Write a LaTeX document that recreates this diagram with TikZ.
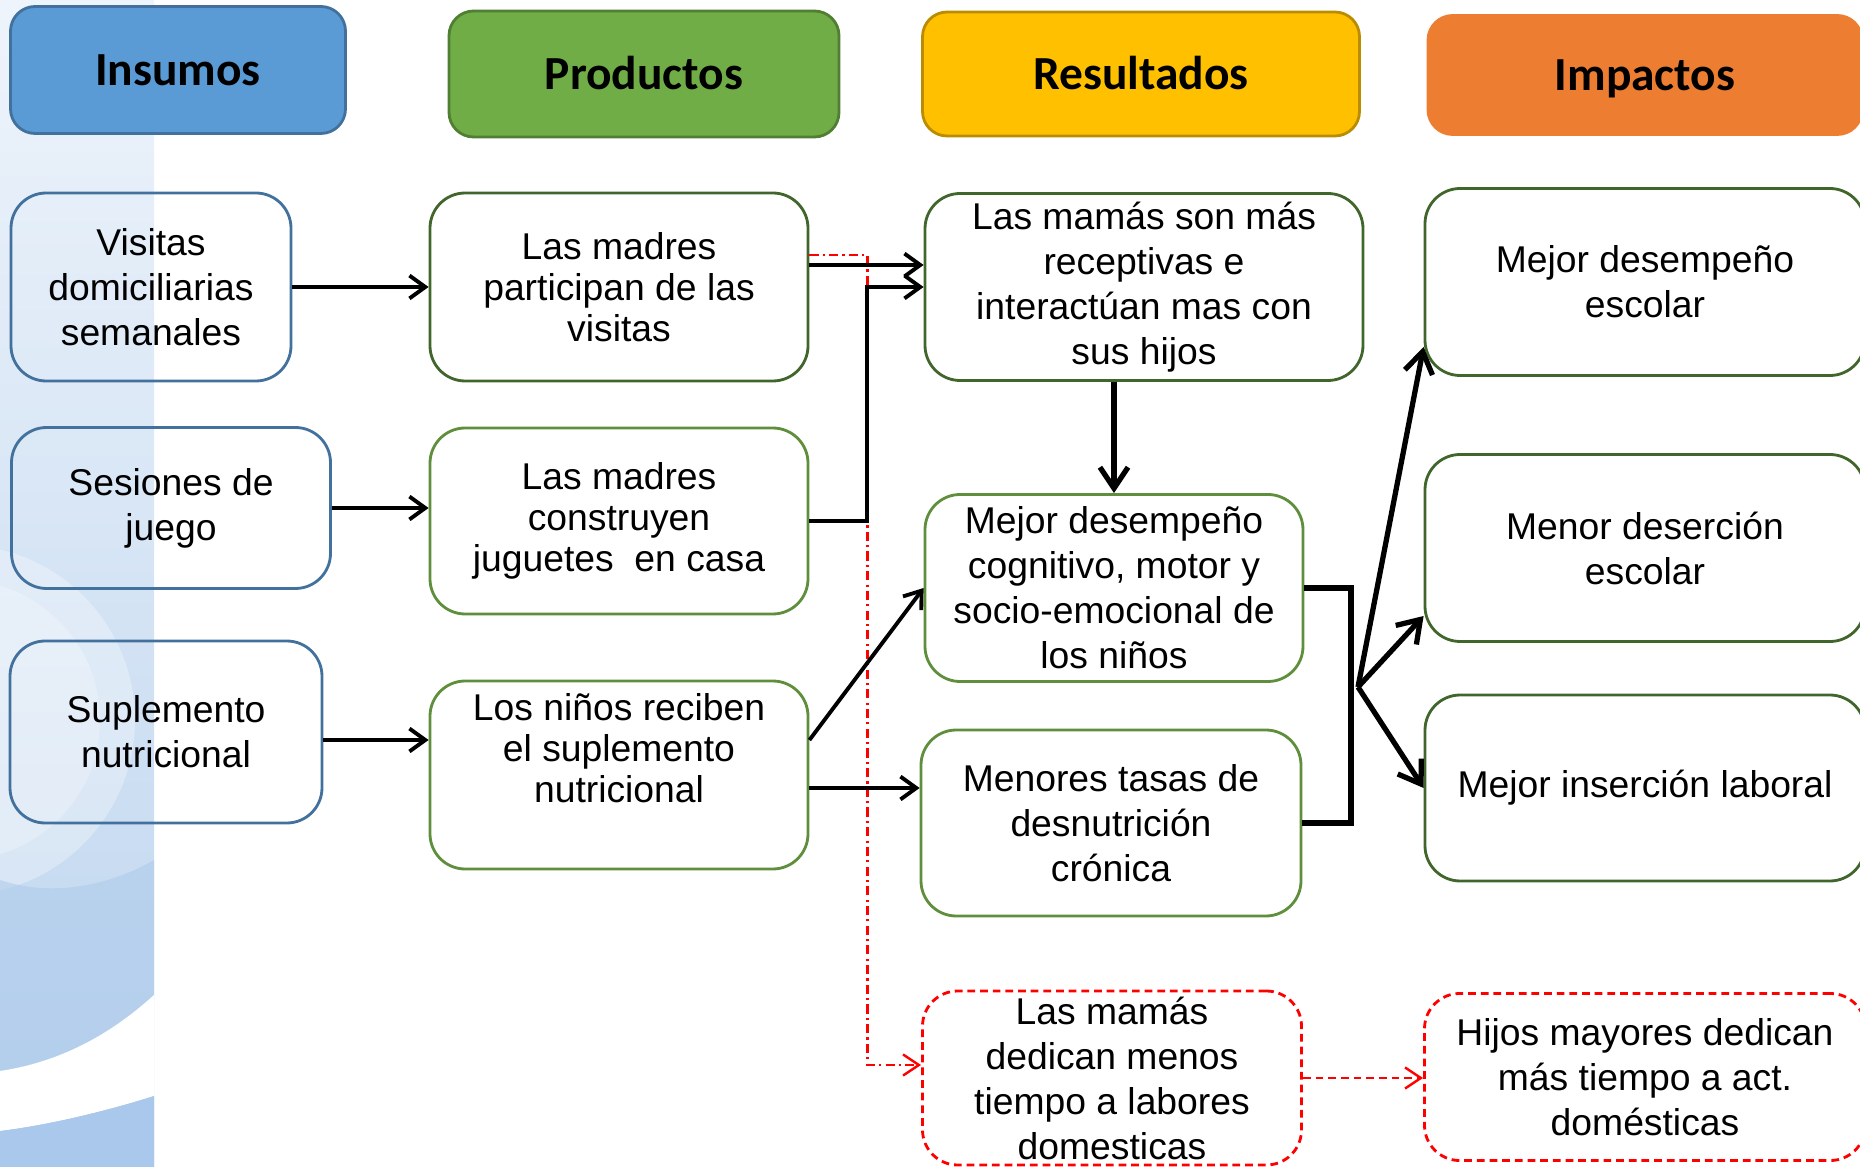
\documentclass[tikz,border=0pt]{standalone}
\usepackage{fontspec}
\setmainfont{Liberation Sans}
\newfontfamily\hdrfont{Carlito}
\usetikzlibrary{arrows.meta,calc}

\definecolor{insblue}{HTML}{5B9BD5}
\definecolor{insblueD}{HTML}{41719C}
\definecolor{progreen}{HTML}{70AD47}
\definecolor{progreenD}{HTML}{507E32}
\definecolor{resyellow}{HTML}{FFC000}
\definecolor{resyellowD}{HTML}{BC8C00}
\definecolor{imporange}{HTML}{ED7D31}
\definecolor{dkgreen}{HTML}{41662B}
\definecolor{ltgreen}{HTML}{5F8F3C}
\definecolor{bgtop}{HTML}{EEF4FB}
\definecolor{bgbot}{HTML}{BCD4EE}
\definecolor{bgdeep}{HTML}{A9C8EB}

\tikzset{
    sz/.style 2 args={minimum width=#1*0.01cm, minimum height=#2*0.01cm},
    hdr/.style={draw, rounded corners=7pt, line width=0.8pt, text height=8.7pt, text depth=0pt,
        font=\hdrfont\bfseries\fontsize{13.5}{16}\selectfont},
    box/.style={draw, rounded corners=10pt, line width=0.8pt, align=center,
        inner sep=1pt, font=\fontsize{10.6}{12.8}\selectfont},
    insumo/.style={box, draw=insblueD},
    producto/.style={box, draw=ltgreen, font=\fontsize{10.6}{11.7}\selectfont},
    resultado/.style={box, draw=ltgreen},
    impacto/.style={box, draw=dkgreen},
    lateral/.style={box, draw=red, dash pattern=on 2.2pt off 1.4pt},
    conn/.style={line width=1.1pt, -{Straight Barb[length=4.5pt,width=6.5pt]}},
    bracketline/.style={line width=1.7pt},
    impactarrow/.style={line width=1.5pt, -{Straight Barb[length=6pt,width=8pt]}},
    redconn/.style={red, line width=0.7pt, dash pattern=on 2.6pt off 1.2pt on 0.6pt off 1.2pt,
        -{Straight Barb[length=4.5pt,width=6pt]}},
    reddash/.style={red, line width=0.7pt, dash pattern=on 2.2pt off 1.4pt,
        -{Straight Barb[length=4.5pt,width=6pt]}}
}

\begin{document}
\begin{tikzpicture}[x=0.01cm, y=-0.01cm]
    \useasboundingbox (0,0) rectangle (1860,1167);

    % left background strip
    \begin{scope}
        \clip (0,0) rectangle (154,1167);
        \fill[top color=bgtop, bottom color=bgbot] (0,0) rectangle (154,1167);
        \fill[white, opacity=0.3] (-40,720) circle (175);
        \fill[white, opacity=0.25] (-40,720) circle (140);
        \fill[bgdeep, opacity=0.5] (0,880) .. controls (60,900) and (120,880) .. (154,860)
            -- (154,1000) .. controls (100,1050) and (50,1068) .. (0,1071) -- cycle;
        \fill[white] (0,1071) .. controls (60,1062) and (110,1035) .. (154,995)
            -- (154,1096) .. controls (110,1110) and (50,1125) .. (0,1131) -- cycle;
        \fill[bgdeep] (0,1131) .. controls (50,1125) and (110,1110) .. (154,1096)
            -- (154,1167) -- (0,1167) -- cycle;
    \end{scope}

    % headers
    \node[hdr, fill=insblue, draw=insblueD, sz={335}{127}] (hIns) at (178,70) {Insumos};
    \node[hdr, fill=progreen, draw=progreenD, sz={390}{126}] (hPro) at (644,74) {Productos};
    \node[hdr, fill=resyellow, draw=resyellowD, sz={437}{124}] (hRes) at (1141,74) {Resultados};
    \node[hdr, fill=imporange, draw=imporange, sz={434}{119}] (hImp) at (1645,75) {Impactos};

    % insumos
    \node[insumo, sz={280}{188}] (ins1) at (151,287) {Visitas\\domiciliarias\\semanales};
    \node[insumo, sz={319}{161}] (ins2) at (171,508) {Sesiones de\\juego};
    \node[insumo, sz={312}{182}] (ins3) at (166,732) {Suplemento\\nutricional};

    % productos
    \node[producto, draw=dkgreen, sz={378}{188}] (pro1) at (619,287) {Las madres\\participan de las\\visitas};
    \node[producto, sz={378}{186}] (pro2) at (619,521) {Las madres\\construyen\\juguetes~ en casa};
    \node[producto, sz={378}{188}] (pro3) at (619,775) {Los niños reciben\\el suplemento\\nutricional\\\strut};

    % resultados
    \node[resultado, draw=dkgreen, sz={438}{187}] (res1) at (1144,287) {Las mamás son más\\receptivas e\\interactúan mas con\\sus hijos};
    \node[resultado, sz={378}{187}] (res2) at (1114,588) {Mejor desempeño\\cognitivo, motor y\\socio-emocional de\\los niños};
    \node[resultado, sz={380}{186}] (res3) at (1111,823) {Menores tasas de\\desnutrición\\crónica};
    \node[lateral, sz={379}{174}] (res4) at (1112,1078) {Las mamás\\dedican menos\\tiempo a labores\\domesticas};

    % impactos
    \node[impacto, sz={440}{187}] (imp1) at (1645,282) {Mejor desempeño\\escolar};
    \node[impacto, sz={440}{187}] (imp2) at (1645,548) {Menor deserción\\escolar};
    \node[impacto, sz={440}{186}] (imp3) at (1645,788) {Mejor inserción laboral};
    \node[lateral, sz={441}{167}] (imp4) at (1645,1077) {Hijos mayores dedican\\más tiempo a act.\\domésticas};

    % insumos -> productos
    \draw[conn] (ins1.east) -- (pro1.west);
    \draw[conn] (ins2.east) -- (ins2.east -| pro2.west);
    \draw[conn] ($(ins3.east)+(0,8)$) coordinate (s3) -- (s3 -| pro3.west);

    % productos -> resultados
    \draw[redconn] ($(pro1.east)+(0,-32)$) -- ++(58,0) |- ($(res4.west)+(0,-13)$);
    \draw[conn] ($(pro1.east)+(0,-22)$) coordinate (p1) -- (p1 -| res1.west);
    \draw[conn] (pro2.east) -- ++(58,0) |- (res1.west);
    \draw[conn] ($(pro3.east)+(0,-35)$) -- (res2.west);
    \draw[conn] ($(pro3.east)+(0,13)$) coordinate (p3) -- (p3 -| res3.west);
    \draw[line width=1.5pt, -{Straight Barb[length=6pt,width=8pt]}] (res1.south -| res2.north) -- (res2.north);

    % resultados -> impactos
    \draw[bracketline] (res2.east) -- ++(47,0) |- (res3.east);
    \coordinate (fork) at (1358,687);
    \draw[impactarrow] (fork) -- ($(imp1.west)+(0,65)$);
    \draw[impactarrow] (fork) -- ($(imp2.west)+(0,68)$);
    \draw[impactarrow] (fork) -- (imp3.west);
    \draw[reddash] (res4.east) -- (res4.east -| imp4.west);
\end{tikzpicture}
\end{document}
